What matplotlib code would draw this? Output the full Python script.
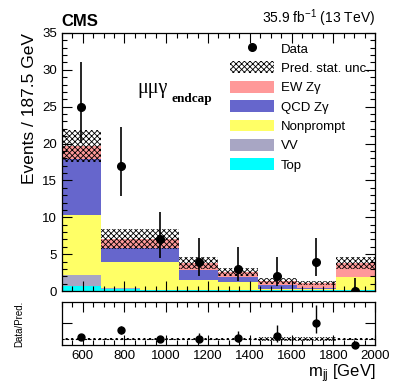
import matplotlib
matplotlib.use("Agg")
import matplotlib.pyplot as plt
import numpy as np
from matplotlib.patches import Patch
from matplotlib.lines import Line2D
from matplotlib.ticker import MultipleLocator, NullFormatter

plt.rcParams['font.family'] = ['Liberation Sans', 'DejaVu Sans']
plt.rcParams['hatch.linewidth'] = 0.6
plt.rcParams['mathtext.fontset'] = 'custom'
plt.rcParams['mathtext.rm'] = 'Liberation Sans'
plt.rcParams['mathtext.it'] = 'Liberation Sans:italic'

# Binning (per 187.5 GeV)
edges = [500, 687.5, 875, 1062.5, 1250, 1437.5, 1625, 1812.5, 2000]

# Stacked predictions (events / 187.5 GeV)
top = [0.7, 0.25, 0.10, 0.10, 0.10, 0.10, 0.10, 0.10]
vv = [1.5, 0.10, 0.10, 0.05, 0.05, 0.05, 0.05, 0.05]
nonprompt = [8.15, 3.60, 3.75, 1.35, 1.05, 0.15, 0.10, 1.75]
qcd_zg = [7.5, 1.90, 1.90, 1.35, 0.70, 0.50, 0.20, 0.05]
ew_zg = [1.85, 1.25, 1.25, 0.95, 0.70, 0.60, 0.65, 1.85]
stat_unc = [2.15, 1.35, 1.35, 0.80, 0.50, 0.40, 0.30, 0.85]

# Data
data = [25, 17, 7, 4, 3, 2, 4, 0]
data_err_lo = [4.94, 4.08, 2.58, 1.91, 1.63, 1.29, 1.91, 0.0]
data_err_hi = [6.08, 5.20, 3.77, 3.16, 2.92, 2.64, 3.16, 1.84]

edges = np.array(edges)
widths = np.diff(edges)
centers = edges[:-1] + widths / 2

fig = plt.figure(figsize=(3.99, 3.83), dpi=100)
ax = fig.add_axes([0.155, 0.240, 0.785, 0.674])
rax = fig.add_axes([0.155, 0.099, 0.785, 0.113])

comps = [
    ("Top", top, "#00FFFF"),
    ("VV", vv, "#A8A6C4"),
    ("Nonprompt", nonprompt, "#FFFF66"),
    ("QCD Z\u03b3", qcd_zg, "#6666CC"),
    ("EW Z\u03b3", ew_zg, "#FF9999"),
]
bottom = np.zeros(len(centers))
for name, vals, col in comps:
    vals = np.array(vals)
    ax.bar(edges[:-1], vals, width=widths, bottom=bottom, align='edge',
           color=col, linewidth=0)
    bottom = bottom + vals
total = bottom
unc = np.array(stat_unc)
ax.bar(edges[:-1], 2 * unc, width=widths, bottom=total - unc, align='edge',
       fill=False, hatch='xxxxxx', linewidth=0, edgecolor='black')

ax.errorbar(centers, data, yerr=[data_err_lo, data_err_hi], fmt='o', color='black',
            markersize=5.5, elinewidth=1.2, capsize=0, zorder=5)

ax.set_xlim(500, 2000)
ax.set_ylim(0, 35)
ax.xaxis.set_major_locator(MultipleLocator(200))
ax.xaxis.set_minor_locator(MultipleLocator(50))
ax.yaxis.set_major_locator(MultipleLocator(5))
ax.yaxis.set_minor_locator(MultipleLocator(1))
ax.xaxis.set_major_formatter(NullFormatter())
for a in (ax, rax):
    a.tick_params(which='both', direction='in', top=True, right=True, labelsize=9.5)
    a.tick_params(which='major', length=7, width=0.8)
    a.tick_params(which='minor', length=3.5, width=0.8)
    for s in a.spines.values():
        s.set_linewidth(0.9)
ax.set_ylabel("Events / 187.5 GeV", fontsize=12.5, loc='top')

# Ratio
ratio = np.array(data) / total
r_lo = np.array(data_err_lo) / total
r_hi = np.array(data_err_hi) / total
rel = unc / total
rax.bar(edges[:-1], 2 * rel, width=widths, bottom=1 - rel, align='edge',
        fill=False, hatch='xxxxxx', linewidth=0, edgecolor='black')
rax.axhline(1, color='black', linestyle=(0, (2, 2)), linewidth=0.8)
rax.errorbar(centers, ratio, yerr=[r_lo, r_hi], fmt='o', color='black',
             markersize=5, elinewidth=1.0, capsize=0, zorder=5, clip_on=False)
rax.set_xlim(500, 2000)
rax.set_ylim(0, 7)
rax.xaxis.set_major_locator(MultipleLocator(200))
rax.xaxis.set_minor_locator(MultipleLocator(50))
rax.set_yticks([3.5])
rax.yaxis.set_major_formatter(NullFormatter())
rax.set_ylabel("Data/Pred.", fontsize=7)
rax.yaxis.set_label_coords(-0.12, 0.5)
rax.set_xlabel("m$_{\\mathregular{jj}}$ [GeV]", fontsize=12, loc='right', labelpad=0)

# Texts
fig.text(0.155, 0.925, "CMS", fontsize=12, fontweight='bold', ha='left', va='bottom')
fig.text(0.94, 0.925, "35.9 fb$^{\\mathregular{-1}}$ (13 TeV)", fontsize=10, ha='right', va='bottom')
ax.text(0.24, 0.767, "\u03bc\u03bc\u03b3", fontsize=14.5, family='Liberation Serif',
        transform=ax.transAxes, ha='left', va='baseline')
ax.text(0.35, 0.733, "endcap", fontsize=9.5, family='Liberation Serif', fontweight='bold',
        transform=ax.transAxes, ha='left', va='baseline')

handles = [
    Line2D([], [], marker='o', color='black', linestyle='none', markersize=5.5),
    Patch(facecolor='white', hatch='xxxxxx', edgecolor='black', linewidth=0),
    Patch(facecolor="#FF9999", linewidth=0),
    Patch(facecolor="#6666CC", linewidth=0),
    Patch(facecolor="#FFFF66", linewidth=0),
    Patch(facecolor="#A8A6C4", linewidth=0),
    Patch(facecolor="#00FFFF", linewidth=0),
]
labels = ["Data", "Pred. stat. unc.", "EW Z\u03b3", "QCD Z\u03b3", "Nonprompt", "VV", "Top"]
ax.legend(handles, labels, loc='upper left', bbox_to_anchor=(0.52, 0.985), frameon=False,
          fontsize=9.5, handlelength=3.3, handleheight=1.0, labelspacing=0.45,
          handletextpad=0.55, borderaxespad=0)

fig.savefig("out.png", dpi=100)
